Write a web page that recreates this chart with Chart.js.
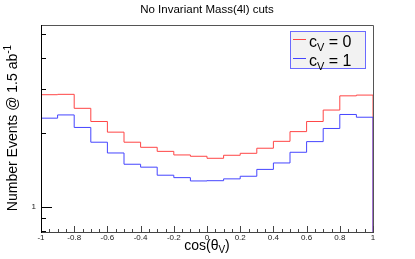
<!DOCTYPE html>
<html>
<head>
<meta charset="utf-8">
<script src="https://cdn.jsdelivr.net/npm/chart.js@4"></script>
<style>
  html, body { margin: 0; padding: 0; background: #fff; }
</style>
</head>
<body>
<canvas id="histChart" width="415" height="259"></canvas>
<script>
// bin low edges of cos(theta_V), 20 bins of 0.1
var binLow = [-1.0, -0.9, -0.8, -0.7, -0.6, -0.5, -0.4, -0.3, -0.2, -0.1,
              0.0, 0.1, 0.2, 0.3, 0.4, 0.5, 0.6, 0.7, 0.8, 0.9];
var binHigh = 1.0;
// events per bin @ 1.5 ab^-1
var cv0 = [2.85, 2.86, 2.51, 2.22, 2.01, 1.83, 1.745, 1.68, 1.625, 1.605,
           1.575, 1.62, 1.65, 1.73, 1.845, 2.02, 2.22, 2.47, 2.82, 2.84];
var cv1 = [2.29, 2.36, 2.10, 1.83, 1.655, 1.49, 1.45, 1.345, 1.315, 1.275,
           1.278, 1.30, 1.332, 1.42, 1.508, 1.666, 1.84, 2.08, 2.37, 2.31];
// axis ticks
var xTickLabels = [-1, -0.8, -0.6, -0.4, -0.2, 0, 0.2, 0.4, 0.6, 0.8, 1];
var yTickLabels = [1];
var yMinorTicks = [0.8, 0.9, 2, 3, 4, 5];

var FONT = '"Liberation Sans", Arial, Helvetica, sans-serif';

// turn bin contents into an outlined step curve (drops to the floor at both ends)
function histPoints(vals) {
    var pts = [{ x: binLow[0], y: 0.5 }];
    for (var i = 0; i < vals.length; i++) {
        pts.push({ x: binLow[i], y: vals[i] });
    }
    pts.push({ x: binHigh, y: vals[vals.length - 1] });
    pts.push({ x: binHigh, y: 0.5 });
    return pts;
}

// draw text pieces with sub/superscripts, starting at x
function drawRich(ctx, parts, x, y) {
    parts.forEach(function (p) {
        ctx.font = p.size + 'px ' + FONT;
        ctx.fillText(p.t, x, y + (p.dy || 0));
        x += ctx.measureText(p.t).width;
    });
    return x;
}
function richWidth(ctx, parts) {
    var w = 0;
    parts.forEach(function (p) {
        ctx.font = p.size + 'px ' + FONT;
        w += ctx.measureText(p.t).width;
    });
    return w;
}

var frameAndText = {
    id: 'frameAndText',
    beforeDatasetsDraw: function (chart) {
        var ctx = chart.ctx, a = chart.chartArea;
        ctx.save();
        ctx.strokeStyle = '#555';
        ctx.lineWidth = 1;
        ctx.beginPath();
        ctx.moveTo(a.left, a.top + 0.5);
        ctx.lineTo(a.right + 0.5, a.top + 0.5);
        ctx.lineTo(a.right + 0.5, a.bottom);
        ctx.stroke();
        ctx.restore();
    },
    afterDatasetsDraw: function (chart) {
        var ctx = chart.ctx, a = chart.chartArea;
        var xs = chart.scales.x, ys = chart.scales.y;
        ctx.save();
        // bottom axis + ticks
        ctx.strokeStyle = '#444';
        ctx.lineWidth = 1;
        ctx.beginPath();
        ctx.moveTo(a.left, a.bottom + 0.5);
        ctx.lineTo(a.right + 1, a.bottom + 0.5);
        for (var k = 0; k <= 40; k++) {
            var v = -1 + k * 0.05;
            var px = Math.round(xs.getPixelForValue(v)) + 0.5;
            var len = (k % 4 === 0) ? 6 : 3;
            ctx.moveTo(px, a.bottom);
            ctx.lineTo(px, a.bottom - len);
        }
        ctx.stroke();
        // left axis + ticks
        ctx.strokeStyle = '#000';
        ctx.beginPath();
        ctx.moveTo(a.left + 0.5, a.top);
        ctx.lineTo(a.left + 0.5, a.bottom + 1);
        yTickLabels.forEach(function (v) {
            var py = Math.round(ys.getPixelForValue(v)) + 0.5;
            ctx.moveTo(a.left, py);
            ctx.lineTo(a.left + 11, py);
        });
        yMinorTicks.forEach(function (v) {
            var py = Math.round(ys.getPixelForValue(v)) + 0.5;
            if (py < a.top || py > a.bottom) return;
            ctx.moveTo(a.left, py);
            ctx.lineTo(a.left + 5, py);
        });
        ctx.stroke();

        // title
        ctx.fillStyle = '#000';
        ctx.textBaseline = 'alphabetic';
        ctx.textAlign = 'center';
        ctx.font = '11.5px ' + FONT;
        ctx.fillText('No Invariant Mass(4l) cuts', 207, 13);
        ctx.textAlign = 'left';

        // x axis title
        var xt = [{ t: 'cos(\u03b8', size: 14 }, { t: 'V', size: 10, dy: 3 }, { t: ')', size: 14 }];
        drawRich(ctx, xt, 207 - richWidth(ctx, xt) / 2, 250);

        // y axis title
        var yt = [{ t: 'Number Events @ 1.5 ab', size: 14 }, { t: '-1', size: 10, dy: -6 }];
        ctx.save();
        ctx.translate(17, 128);
        ctx.rotate(-Math.PI / 2);
        drawRich(ctx, yt, -richWidth(ctx, yt) / 2, 0);
        ctx.restore();

        // legend box
        ctx.fillStyle = '#f2f2f2';
        ctx.fillRect(290, 31, 76, 38);
        ctx.strokeStyle = '#6a6aff';
        ctx.strokeRect(290.5, 31.5, 75, 37);
        var entries = [
            { label: '0', color: '#ff4545', y: 47 },
            { label: '1', color: '#4545ff', y: 66 }
        ];
        entries.forEach(function (e) {
            ctx.strokeStyle = e.color;
            ctx.lineWidth = 1;
            ctx.beginPath();
            ctx.moveTo(293, e.y - 7.5);
            ctx.lineTo(306, e.y - 7.5);
            ctx.stroke();
            ctx.fillStyle = '#000';
            drawRich(ctx, [{ t: 'c', size: 16 }, { t: 'V', size: 11, dy: 4 }, { t: ' = ' + e.label, size: 16 }], 309, e.y);
        });
        ctx.restore();
    }
};

var ctx = document.getElementById('histChart').getContext('2d');
var myChart = new Chart(ctx, {
    type: 'line',
    data: {
        datasets: [
            {
                label: 'cV = 0',
                data: histPoints(cv0),
                borderColor: '#ff4545',
                borderWidth: 1,
                stepped: true,
                pointRadius: 0,
                fill: false,
                order: 1
            },
            {
                label: 'cV = 1',
                data: histPoints(cv1),
                borderColor: '#4545ff',
                borderWidth: 1,
                stepped: true,
                pointRadius: 0,
                fill: false,
                order: 0
            }
        ]
    },
    options: {
        responsive: false,
        animation: false,
        events: [],
        layout: { padding: { top: 25, right: 42, left: 0, bottom: 0 } },
        plugins: {
            legend: { display: false },
            title: { display: false },
            tooltip: { enabled: false }
        },
        scales: {
            x: {
                type: 'linear',
                min: -1,
                max: 1,
                grid: { display: false, drawTicks: false },
                border: { display: false },
                afterBuildTicks: function (scale) {
                    scale.ticks = xTickLabels.map(function (v) { return { value: v }; });
                },
                afterFit: function (scale) { scale.height = 27; },
                ticks: {
                    autoSkip: false,
                    maxRotation: 0,
                    padding: 1,
                    color: '#222',
                    font: { family: FONT, size: 8 },
                    callback: function (value) { return String(value); }
                }
            },
            y: {
                type: 'logarithmic',
                min: 0.792,
                max: 5.46,
                grid: { display: false, drawTicks: false },
                border: { display: false },
                afterBuildTicks: function (scale) {
                    scale.ticks = yTickLabels.map(function (v) { return { value: v }; });
                },
                afterFit: function (scale) { scale.width = 41; },
                ticks: {
                    padding: 5,
                    color: '#222',
                    font: { family: FONT, size: 8 },
                    callback: function (value) { return String(value); }
                }
            }
        }
    },
    plugins: [frameAndText]
});
</script>
</body>
</html>
